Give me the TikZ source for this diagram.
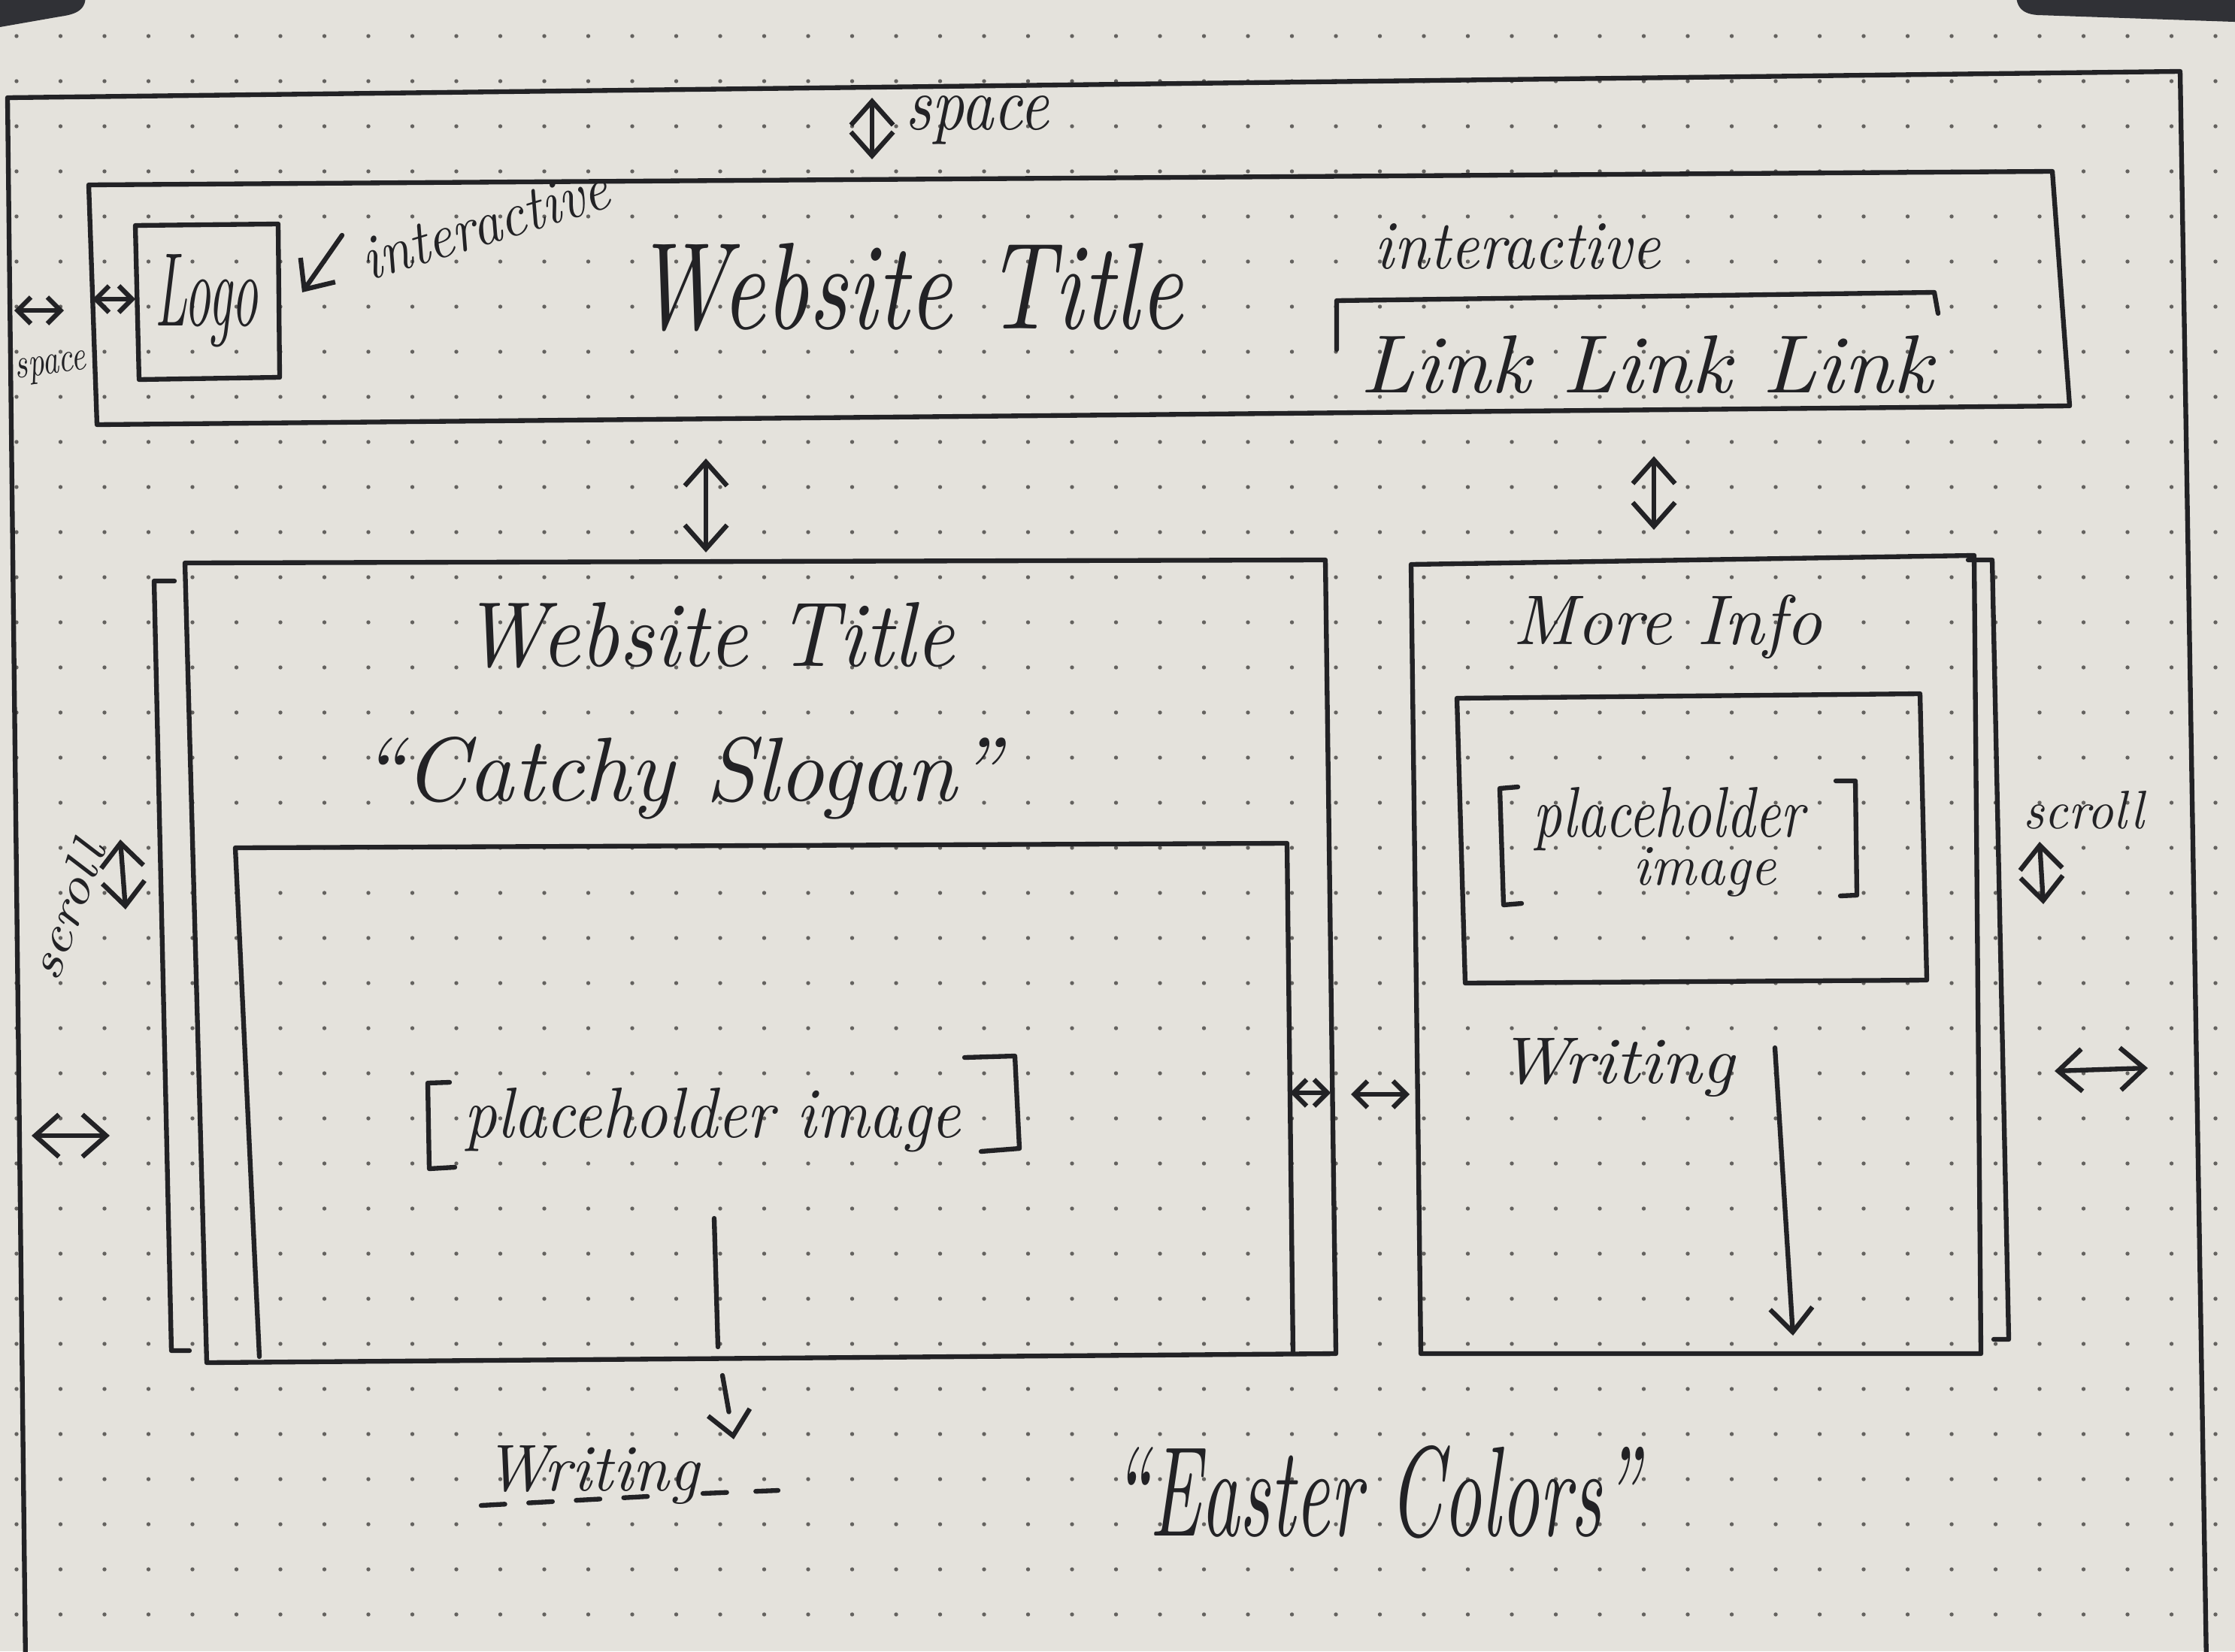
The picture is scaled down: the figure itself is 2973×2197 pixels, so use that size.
\documentclass[tikz,border=0pt]{standalone}
\usetikzlibrary{arrows.meta}
\definecolor{paper}{RGB}{228,226,220}
\definecolor{ink}{RGB}{34,34,37}
\definecolor{dotc}{RGB}{100,98,95}
\definecolor{darkedge}{RGB}{48,49,54}
% handwritten label: width, height, text
\newcommand{\hw}[3]{\resizebox{#1}{#2}{\itshape #3}}
\begin{document}
\begin{tikzpicture}[x=0.01cm,y=-0.01cm,
  pen/.style={draw=ink,line width=1.8pt,line cap=round,line join=round},
  lbl/.style={inner sep=0pt,text=ink},
  bigtip/.style={pen,{Straight Barb[length=9pt,width=16pt]}-{Straight Barb[length=9pt,width=16pt]}},
  smalltip/.style={pen,{Straight Barb[length=5pt,width=10pt]}-{Straight Barb[length=5pt,width=10pt]}},
  onetip/.style={pen,-{Straight Barb[length=9pt,width=16pt]}}]

% paper and dot grid
\fill[paper] (0,0) rectangle (2973,2197);
\useasboundingbox (0,0) rectangle (2973,2197);
\fill[darkedge] (2700,-20) -- (3000,-20) -- (3000,30) -- (2710,20)
  .. controls (2685,18) and (2680,5) .. (2682,-20) -- cycle;
\fill[darkedge] (-20,-20) -- (112,-20) .. controls (118,8) and (110,18) .. (80,22)
  -- (0,36) -- (-20,36) -- cycle;
\foreach \i in {0,...,50}
  \foreach \j in {0,...,36}
    \fill[dotc] (22+\i*58.5,48+\j*60) circle (2.7);

% page frame
\draw[pen] (34,2215) -- (10,130) -- (2900,95) -- (2935,2215);

% top spacing
\draw[bigtip] (1160,130) -- (1160,212);
\node[lbl] (spacetop) at (1300,160) {\hw{1.9cm}{0.45cm}{space}};

% header bar
\draw[pen] (118,246) -- (2730,228) -- (2753,540) -- (129,565) -- cycle;
\draw[pen] (180,300) -- (370,298) -- (372,502) -- (185,505) -- cycle;
\node[lbl] (logo) at (275,400) {\hw{1.37cm}{0.95cm}{Logo}};
\draw[smalltip] (19,413) -- (85,413);
\draw[smalltip] (123,398) -- (180,398);
\node[lbl,rotate=8] (spaceleft) at (68,490) {\hw{0.95cm}{0.25cm}{space}};
\coordinate (intA) at (455,313);
\coordinate (intB) at (402,389);
\draw[onetip] (intA) -- (intB);
\node[lbl,rotate=17] (intleft) at (645,298) {\hw{3.4cm}{0.55cm}{interactive}};
\node[lbl] (title) at (1208,382) {\hw{7.3cm}{1.14cm}{Website Title}};
\node[lbl] (intright) at (2019,328) {\hw{3.8cm}{0.6cm}{interactive}};
\draw[pen] (1778,465) -- (1778,400) -- (2573,389) -- (2578,417);
\node[lbl] (links) at (2190,485) {\hw{7.6cm}{0.76cm}{Link Link Link}};

% vertical gaps below header
\draw[bigtip] (939,610) -- (939,735);
\draw[bigtip] (2200,607) -- (2200,705);

% main column
\draw[pen] (246,749) -- (1763,745) -- (1777,1801) -- (275,1813) -- cycle;
\draw[pen] (232,773) -- (205,773) -- (228,1797) -- (252,1797);
\node[lbl,rotate=70] (scrollleft) at (88,1212) {\hw{1.9cm}{0.45cm}{scroll}};
\draw[bigtip] (160,1117) -- (167,1210);
\draw[bigtip] (42,1511) -- (146,1511);
\node[lbl] (title2) at (942,845) {\hw{6.54cm}{0.85cm}{Website Title}};
\node[lbl] (slogan) at (905,1035) {\hw{8.5cm}{0.85cm}{``Catchy Slogan''}};
\draw[pen] (345,1805) -- (313,1128) -- (1712,1122) -- (1720,1801);
\draw[pen] (598,1440) -- (569,1441) -- (571,1555) -- (605,1553);
\draw[pen] (1283,1407) -- (1350,1405) -- (1356,1528) -- (1305,1532);
\node[lbl] (ph1) at (948,1490) {\hw{6.6cm}{0.66cm}{placeholder image}};
\draw[pen] (950,1621) -- (955,1792);
\draw[pen,dashed,dash pattern=on 14pt off 9pt,-{Straight Barb[length=9pt,width=16pt]}] (961,1830) -- (976,1915);
\node[lbl] (writing1) at (787,1962) {\hw{2.85cm}{0.6cm}{Writing}};
\draw[pen,dash pattern=on 9pt off 9pt] (640,2003) -- (880,1990);
\draw[pen,dash pattern=on 9pt off 11pt] (935,1987) -- (1035,1983);

% gutter spacing
\draw[smalltip] (1716,1454) -- (1770,1454);
\draw[smalltip] (1797,1456) -- (1875,1456);

% side column
\draw[pen] (1877,751) -- (2626,739) -- (2635,1801) -- (1890,1801) -- cycle;
\draw[pen] (2618,745) -- (2650,745) -- (2672,1782) -- (2652,1782);
\node[lbl] (scrollright) at (2772,1078) {\hw{1.6cm}{0.5cm}{scroll}};
\draw[bigtip] (2713,1120) -- (2718,1203);
\draw[bigtip] (2733,1425) -- (2857,1421);
\node[lbl] (more) at (2218,834) {\hw{4.1cm}{0.66cm}{More Info}};
\draw[pen] (1938,929) -- (2554,923) -- (2563,1304) -- (1949,1308) -- cycle;
\draw[pen] (2019,1047) -- (1995,1049) -- (2000,1204) -- (2024,1202);
\draw[pen] (2442,1039) -- (2468,1039) -- (2470,1191) -- (2448,1192);
\node[lbl] (ph2a) at (2220,1090) {\hw{3.6cm}{0.66cm}{placeholder}};
\node[lbl] (ph2b) at (2268,1160) {\hw{1.9cm}{0.5cm}{image}};
\node[lbl] (writing2) at (2150,1420) {\hw{3.13cm}{0.6cm}{Writing}};
\coordinate (wA) at (2361,1394);
\coordinate (wB) at (2385,1777);
\draw[onetip] (wA) -- (wB);

% footer note
\node[lbl] (colors) at (1830,1985) {\hw{7.0cm}{1.2cm}{``Easter Colors''}};
\end{tikzpicture}
\end{document}
